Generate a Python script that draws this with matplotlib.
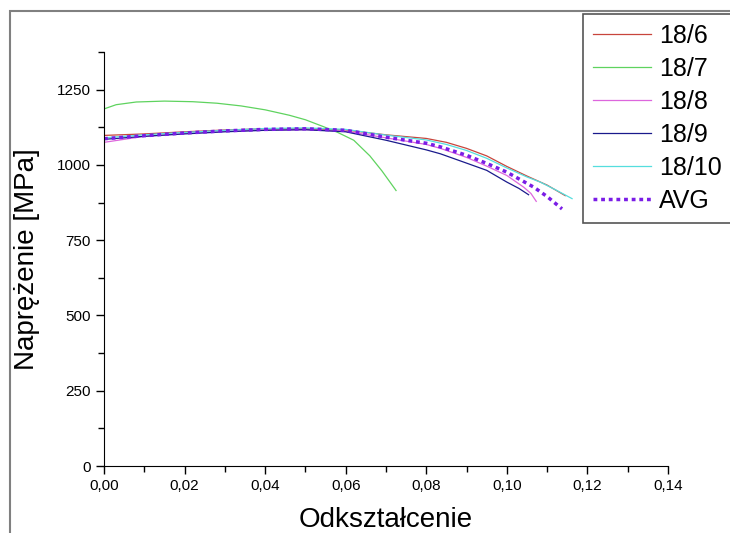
import matplotlib.pyplot as plt
from matplotlib.patches import Rectangle
from matplotlib.ticker import MultipleLocator, FuncFormatter

plt.rcParams['font.family'] = ['Liberation Sans', 'DejaVu Sans']

# odksztalcenie / naprezenie [MPa]
x_186 = [0, 0.01, 0.02, 0.03, 0.04, 0.05, 0.06, 0.07, 0.08, 0.085, 0.09, 0.095, 0.10, 0.105, 0.11, 0.1145]
y_186 = [1098, 1103, 1110, 1116, 1120, 1120, 1116, 1100, 1088, 1075, 1055, 1030, 995, 963, 933, 898]

x_187 = [0, 0.003, 0.008, 0.015, 0.022, 0.028, 0.034, 0.04, 0.046, 0.05, 0.0545, 0.058, 0.062, 0.066, 0.069, 0.0725]
y_187 = [1186, 1200, 1209, 1212, 1210, 1205, 1196, 1183, 1165, 1150, 1127, 1108, 1082, 1030, 980, 915]

x_188 = [0, 0.01, 0.02, 0.03, 0.04, 0.05, 0.06, 0.07, 0.08, 0.0835, 0.09, 0.095, 0.10, 0.1042, 0.106, 0.1073]
y_188 = [1075, 1095, 1105, 1112, 1116, 1117, 1112, 1090, 1068, 1055, 1025, 996, 965, 926, 905, 879]

x_189 = [0, 0.01, 0.02, 0.03, 0.04, 0.05, 0.06, 0.07, 0.08, 0.0835, 0.09, 0.095, 0.10, 0.103, 0.1054]
y_189 = [1085, 1095, 1103, 1110, 1115, 1117, 1110, 1082, 1050, 1037, 1006, 982, 943, 922, 901]

x_1810 = [0, 0.01, 0.02, 0.03, 0.04, 0.05, 0.06, 0.07, 0.08, 0.085, 0.09, 0.095, 0.10, 0.105, 0.1083, 0.112, 0.1162]
y_1810 = [1090, 1100, 1108, 1115, 1121, 1123, 1118, 1099, 1083, 1068, 1048, 1022, 990, 960, 943, 918, 888]

x_avg = [0, 0.01, 0.02, 0.03, 0.04, 0.05, 0.06, 0.07, 0.08, 0.0835, 0.09, 0.095, 0.10, 0.1067, 0.11, 0.1137]
y_avg = [1087, 1097, 1106, 1113, 1118, 1120, 1115, 1092, 1072, 1060, 1032, 1005, 976, 926, 895, 854]

fig = plt.figure(figsize=(7.3, 5.33), dpi=100)
ax = fig.add_axes([0.1425, 0.1257, 0.7725, 0.7767])

# szara ramka wokol calego wykresu
fig.patches.append(Rectangle((10/730, -0.05), 1.0, 1 - 11/533 + 0.05, transform=fig.transFigure,
                             fill=False, edgecolor='#808080', lw=1.5))

ax.plot(x_186, y_186, color='#c8453c', lw=0.9, label='18/6')
ax.plot(x_187, y_187, color='#5fd35f', lw=0.9, label='18/7')
ax.plot(x_188, y_188, color='#dd66dd', lw=0.9, label='18/8')
ax.plot(x_189, y_189, color='#1a1a8c', lw=0.9, label='18/9')
ax.plot(x_1810, y_1810, color='#55dede', lw=0.9, label='18/10')
ax.plot(x_avg, y_avg, color='#7a1de6', lw=2.5, ls=(0, (1.1, 1.1)), label='AVG')

ax.set_xlim(0, 0.14)
ax.set_ylim(0, 1375)
ax.spines['top'].set_visible(False)
ax.spines['right'].set_visible(False)
ax.xaxis.set_major_locator(MultipleLocator(0.02))
ax.xaxis.set_minor_locator(MultipleLocator(0.01))
ax.yaxis.set_major_locator(MultipleLocator(250))
ax.yaxis.set_minor_locator(MultipleLocator(125))
ax.xaxis.set_major_formatter(FuncFormatter(lambda v, p: f'{v:.2f}'.replace('.', ',')))
ax.yaxis.set_major_formatter(FuncFormatter(lambda v, p: f'{v:.0f}'))
ax.tick_params(which='major', length=6, width=1, labelsize=11, direction='out')
ax.tick_params(which='minor', length=4, width=1, direction='out')

ax.set_xlabel('Odkształcenie', fontsize=20, labelpad=10)
ax.set_ylabel('Naprężenie [MPa]', fontsize=20, labelpad=12)

leg = fig.legend(loc='upper left', bbox_to_anchor=(583/730, 1 - 14/533), fontsize=18,
                 handlelength=2.3, handletextpad=0.35, labelspacing=0.36, borderaxespad=0,
                 borderpad=0.4, fancybox=False, edgecolor='#555555', framealpha=1)
leg.get_frame().set_linewidth(1.2)

fig.savefig('out.png', dpi=100)
